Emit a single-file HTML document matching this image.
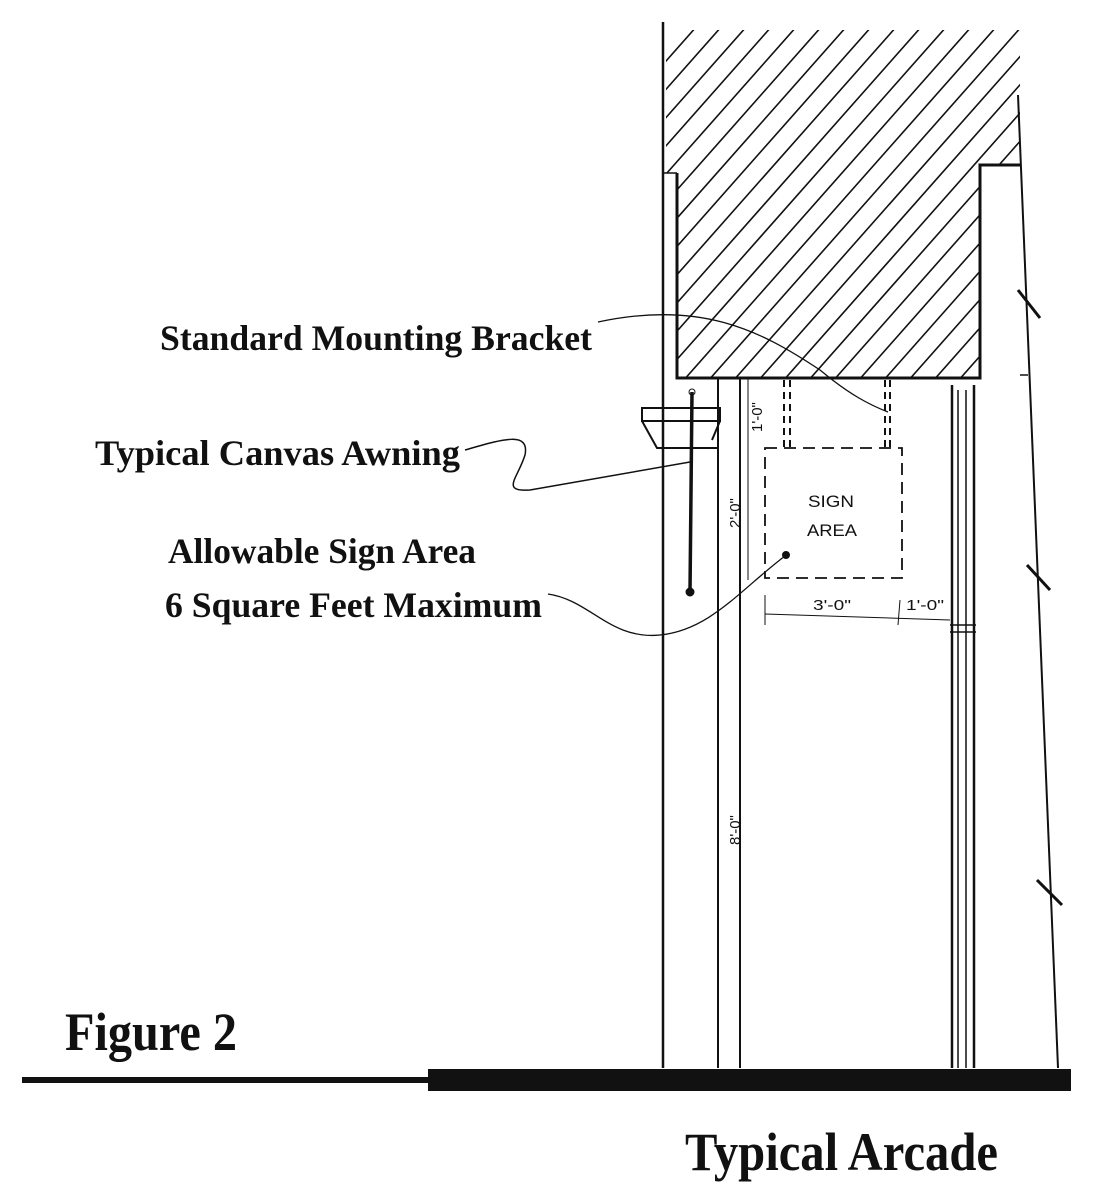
<!DOCTYPE html>
<html><head><meta charset="utf-8"><style>body{margin:0;background:#fff}svg{display:block}</style></head>
<body>
<svg width="1100" height="1198" viewBox="0 0 1100 1198" xmlns="http://www.w3.org/2000/svg" font-family="Liberation Serif, serif" font-weight="bold">
<defs>
<clipPath id="h"><polygon points="666,30 1020,30 1020,165 980,165 980,378 677,378 677,173 666,173"/></clipPath>
</defs>
<g clip-path="url(#h)" stroke="#111" stroke-width="1.6">
<line x1="260" y1="520" x2="720" y2="0"/><line x1="285" y1="520" x2="745" y2="0"/><line x1="310" y1="520" x2="770" y2="0"/><line x1="335" y1="520" x2="795" y2="0"/><line x1="360" y1="520" x2="820" y2="0"/><line x1="385" y1="520" x2="845" y2="0"/><line x1="410" y1="520" x2="870" y2="0"/><line x1="435" y1="520" x2="895" y2="0"/><line x1="460" y1="520" x2="920" y2="0"/><line x1="485" y1="520" x2="945" y2="0"/><line x1="510" y1="520" x2="970" y2="0"/><line x1="535" y1="520" x2="995" y2="0"/><line x1="560" y1="520" x2="1020" y2="0"/><line x1="585" y1="520" x2="1045" y2="0"/><line x1="610" y1="520" x2="1070" y2="0"/><line x1="635" y1="520" x2="1095" y2="0"/><line x1="660" y1="520" x2="1120" y2="0"/><line x1="685" y1="520" x2="1145" y2="0"/><line x1="710" y1="520" x2="1170" y2="0"/><line x1="735" y1="520" x2="1195" y2="0"/><line x1="760" y1="520" x2="1220" y2="0"/><line x1="785" y1="520" x2="1245" y2="0"/><line x1="810" y1="520" x2="1270" y2="0"/><line x1="835" y1="520" x2="1295" y2="0"/><line x1="860" y1="520" x2="1320" y2="0"/><line x1="885" y1="520" x2="1345" y2="0"/><line x1="910" y1="520" x2="1370" y2="0"/><line x1="935" y1="520" x2="1395" y2="0"/>
</g>
<g stroke="#111" fill="none">
<polyline points="677,173 677,378 980,378 980,165 1020,165" stroke-width="3"/>
<line x1="663" y1="22" x2="663" y2="1068" stroke-width="2.5"/>
<line x1="663" y1="173" x2="677" y2="173" stroke-width="1.5"/>
<line x1="1018" y1="95" x2="1058" y2="1068" stroke-width="2"/>
<line x1="1020" y1="375" x2="1028" y2="375" stroke-width="1.5"/>
<path d="M1018,290 L1040,318 M1027,565 L1050,590 M1037,880 L1062,905" stroke-width="3"/>
<line x1="718" y1="378" x2="718" y2="1068" stroke-width="2"/>
<line x1="740" y1="378" x2="740" y2="1068" stroke-width="2"/>
<path d="M642,408 H720 V421 H642 Z" stroke-width="2"/>
<path d="M642,421 L657,448 H718 M720,421 L712,440" stroke-width="2"/>
<line x1="692" y1="392" x2="690" y2="592" stroke-width="3.5"/>
<circle cx="692" cy="392" r="3"/><circle cx="690" cy="592" r="4" fill="#111"/>
<line x1="952" y1="385" x2="952" y2="1068" stroke-width="2.5"/>
<line x1="958" y1="390" x2="958" y2="1068" stroke-width="1.5"/>
<line x1="966" y1="390" x2="966" y2="1068" stroke-width="1.5"/>
<line x1="974" y1="385" x2="974" y2="1068" stroke-width="2.5"/>
<line x1="950" y1="625" x2="976" y2="625" stroke-width="1.5"/><line x1="950" y1="632" x2="976" y2="632" stroke-width="1.5"/>
<path d="M784,380 V448 M790,380 V448 M885,380 V448 M890,380 V448" stroke-width="2" stroke-dasharray="7,5"/>
<rect x="765" y="448" width="137" height="130" stroke-width="1.8" stroke-dasharray="12,7"/>
<line x1="748" y1="378" x2="748" y2="580" stroke-width="1"/>
<line x1="765" y1="614" x2="950" y2="620" stroke-width="1"/>
<line x1="765" y1="595" x2="765" y2="625" stroke-width="1"/>
<line x1="900" y1="600" x2="898" y2="625" stroke-width="1"/>
<path d="M598,322 C700,300 760,330 820,370 C850,395 870,405 888,412" stroke-width="1.3"/>
<path d="M465,450 C500,440 530,430 525,455 C518,478 500,492 530,490 L690,462" stroke-width="1.5"/>
<path d="M548,594 C590,600 610,640 660,635 C710,630 740,590 785,556" stroke-width="1.3"/>
<circle cx="786" cy="555" r="3.5" fill="#111"/>
<rect x="22" y="1077" width="410" height="6" fill="#111" stroke="none"/>
<rect x="428" y="1069" width="643" height="22" fill="#111" stroke="none"/>
</g>
<g fill="#111" font-family="Liberation Sans, sans-serif" font-weight="normal">
<text x="808" y="507" font-size="17" textLength="46" lengthAdjust="spacingAndGlyphs">SIGN</text>
<text x="807" y="536" font-size="17" textLength="50" lengthAdjust="spacingAndGlyphs">AREA</text>
<text x="813" y="610" font-size="15" textLength="38" lengthAdjust="spacingAndGlyphs">3'-0"</text>
<text x="906" y="610" font-size="15" textLength="38" lengthAdjust="spacingAndGlyphs">1'-0"</text>
<text font-size="15" transform="translate(762,432) rotate(-90)">1'-0"</text>
<text font-size="15" transform="translate(740,528) rotate(-90)">2'-0"</text>
<text font-size="15" transform="translate(740,845) rotate(-90)">8'-0"</text>
</g>
<g fill="#111">
<text x="160" y="350" font-size="36" textLength="432" lengthAdjust="spacingAndGlyphs">Standard Mounting Bracket</text>
<text x="95" y="465" font-size="36" textLength="365" lengthAdjust="spacingAndGlyphs">Typical Canvas Awning</text>
<text x="168" y="563" font-size="36" textLength="308" lengthAdjust="spacingAndGlyphs">Allowable Sign Area</text>
<text x="165" y="617" font-size="36" textLength="377" lengthAdjust="spacingAndGlyphs">6 Square Feet Maximum</text>
<text x="65" y="1050" font-size="54" textLength="172" lengthAdjust="spacingAndGlyphs">Figure 2</text>
<text x="685" y="1170" font-size="54" textLength="313" lengthAdjust="spacingAndGlyphs">Typical Arcade</text>
</g>
</svg>
</body></html>
